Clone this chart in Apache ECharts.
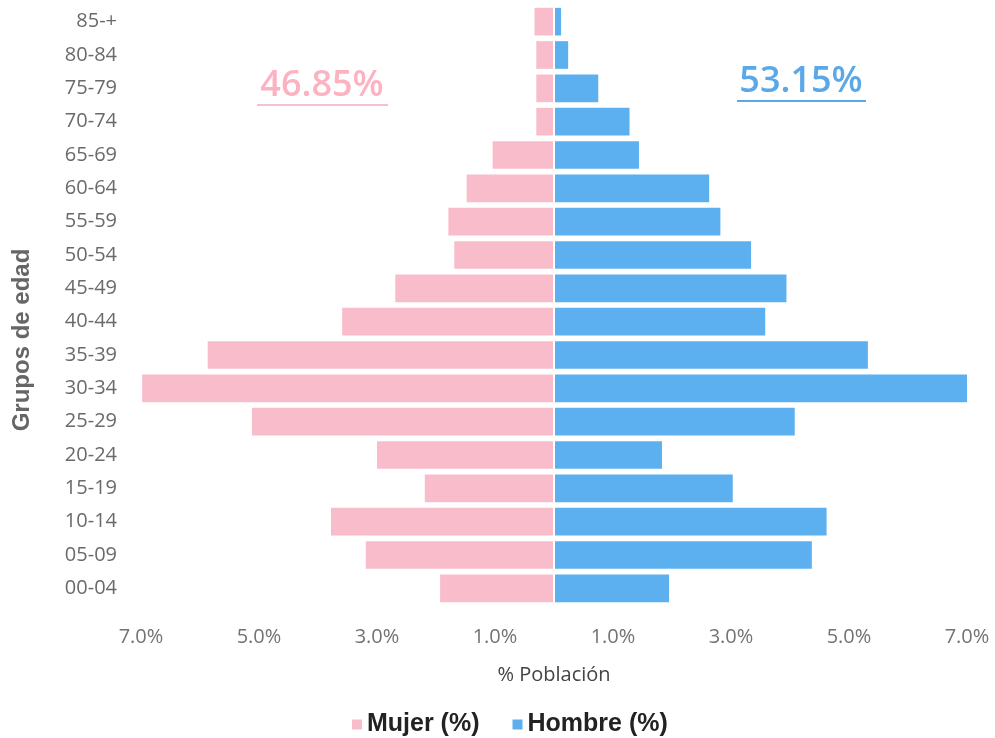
<!DOCTYPE html>
<html>
<head>
<meta charset="utf-8">
<script src="https://cdn.jsdelivr.net/npm/echarts@6/dist/echarts.min.js"></script>
<style>
html,body{margin:0;padding:0;background:#fff;}
#chart{width:995px;height:738px;}
</style>
</head>
<body>
<div id="chart"></div>
<script>
// Age groups, bottom to top
const categories = ['00-04','05-09','10-14','15-19','20-24','25-29','30-34','35-39','40-44','45-49','50-54','55-59','60-64','65-69','70-74','75-79','80-84','85-+'];
// Percent of population (positive values)
const mujer  = [1.93, 3.19, 3.78, 2.19, 3.00, 5.12, 6.98, 5.87, 3.59, 2.69, 1.69, 1.79, 1.48, 1.04, 0.30, 0.30, 0.30, 0.33];
const hombre = [1.95, 4.37, 4.62, 3.03, 1.83, 4.08, 7.00, 5.32, 3.58, 3.94, 3.34, 2.82, 2.63, 1.44, 1.28, 0.75, 0.24, 0.12];
const seriesNames = ['Mujer (%)', 'Hombre (%)'];
const totals = ['46.85%', '53.15%'];
const yAxisTitle = 'Grupos de edad';
const xAxisTitle = '% Población';

const PINK = '#F8BCCB';
const BLUE = '#5DB0F0';

const chart = echarts.init(document.getElementById('chart'));
const option = {
  backgroundColor: '#fff',
  animation: false,
  grid: { left: 141, right: 28, top: 5, bottom: 133, containLabel: false },
  legend: {
    data: seriesNames,
    top: 707,
    left: 347,
    icon: 'rect',
    itemWidth: 10,
    itemHeight: 10,
    itemGap: 33,
    textStyle: { fontFamily: 'Liberation Sans', fontWeight: 'bold', fontSize: 25, color: '#222' }
  },
  xAxis: {
    type: 'value',
    min: -7,
    max: 7,
    interval: 2,
    name: xAxisTitle,
    nameLocation: 'middle',
    nameGap: 60,
    nameTextStyle: { fontFamily: 'Open Sans', fontSize: 20, color: '#444' },
    axisLine: { show: false },
    axisTick: { show: false },
    splitLine: { show: false },
    axisLabel: {
      margin: 22,
      fontFamily: 'Open Sans',
      fontSize: 20,
      fontWeight: 500,
      color: '#737373',
      formatter: v => Math.abs(v).toFixed(1) + '%'
    }
  },
  yAxis: {
    type: 'category',
    data: categories,
    axisLine: { show: false },
    axisTick: { show: false },
    axisLabel: { margin: 24, fontFamily: 'Open Sans', fontSize: 20, fontWeight: 500, color: '#6a6a6a' }
  },
  series: [
    {
      name: seriesNames[0],
      type: 'bar',
      data: mujer.map(v => -v),
      barWidth: '83%',
      barGap: '-100%',
      itemStyle: { color: PINK },
      markLine: {
        silent: true,
        symbol: 'none',
        label: { show: false },
        lineStyle: { color: '#fff', width: 2, type: 'solid' },
        data: [{ xAxis: 0 }]
      }
    },
    {
      name: seriesNames[1],
      type: 'bar',
      data: hombre,
      barWidth: '83%',
      itemStyle: { color: BLUE }
    }
  ],
  graphic: [
    { type: 'text', x: 22, y: 340, rotation: Math.PI / 2, style: { text: yAxisTitle, textAlign: 'center', textVerticalAlign: 'middle', fontFamily: 'Liberation Sans', fontWeight: 'bold', fontSize: 24, fill: '#666' } },
    { type: 'text', x: 322, y: 86, style: { text: totals[0], textAlign: 'center', textVerticalAlign: 'middle', fontFamily: 'Open Sans', fontWeight: 600, fontSize: 36, fill: '#FDB2C2' } },
    { type: 'line', shape: { x1: 257, y1: 105, x2: 388, y2: 105 }, style: { stroke: '#F3C2CD', lineWidth: 2 } },
    { type: 'text', x: 801, y: 82, style: { text: totals[1], textAlign: 'center', textVerticalAlign: 'middle', fontFamily: 'Open Sans', fontWeight: 600, fontSize: 36, fill: '#5AA8E8' } },
    { type: 'line', shape: { x1: 737, y1: 101, x2: 866, y2: 101 }, style: { stroke: '#5AA8E8', lineWidth: 2 } }
  ]
};
chart.setOption(option);
</script>
</body>
</html>
